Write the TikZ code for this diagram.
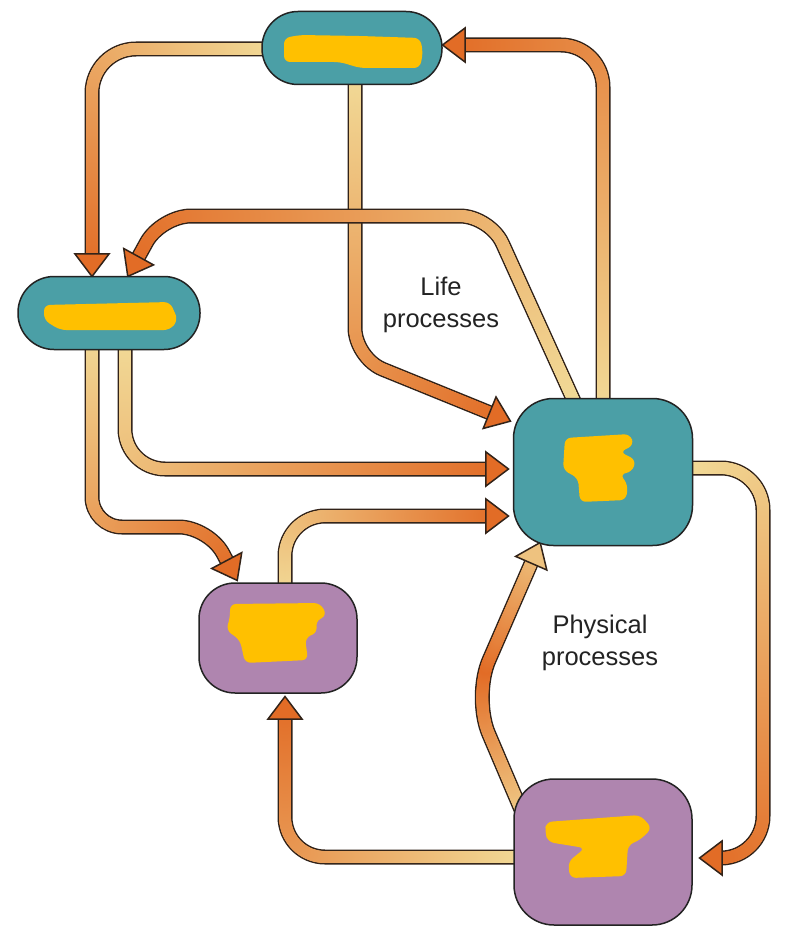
\documentclass[tikz,border=0pt]{standalone}
\usepackage{fontspec}
\setmainfont{Liberation Sans}
\usetikzlibrary{decorations.markings}
\definecolor{tealfill}{RGB}{75,159,166}
\definecolor{purfill}{RGB}{175,133,175}
\definecolor{nodeline}{RGB}{35,35,35}
\definecolor{bandline}{RGB}{50,35,25}
\definecolor{bandstart}{RGB}{242,221,154}
\definecolor{bandend}{RGB}{226,108,38}
\definecolor{scrib}{RGB}{255,192,0}
\definecolor{lbltext}{RGB}{35,35,35}
\tikzset{
  gmap/.store in=\gmapexpr, gmap={\gpos},
  gband/.style={
    preaction={draw=bandline, line width=15pt, shorten >=18pt},
    postaction={decorate, decoration={markings,
      mark=between positions 0 and -20pt step 1pt with {%
        \pgfmathsetmacro\gdist{\pgfkeysvalueof{/pgf/decoration/mark info/distance from start}}%
        \pgfmathsetmacro\gpos{100*(\gdist/\pgfdecoratedpathlength)}%
        \pgfmathsetmacro\gval{max(0,min(100,\gmapexpr))}%
        \fill[bandend!\gval!bandstart] (0,0) circle (6pt);
      },
      mark=at position -0.01pt with {%
        \pgfmathsetmacro\gpos{100}%
        \pgfmathsetmacro\gval{max(0,min(100,\gmapexpr))}%
        \filldraw[sharp corners, fill=bandend!\gval!bandstart, draw=bandline, line width=1.5pt, line join=miter]
          (0.5pt,0) -- (-22pt,17pt) -- (-22pt,-17pt) -- cycle;
      }
    }}
  },
  boxnode/.style={draw=nodeline, line width=1.5pt, inner sep=0pt},
  tealbox/.style={boxnode, fill=tealfill},
  purbox/.style={boxnode, fill=purfill},
  blob/.style={fill=scrib, rounded corners=6pt},
  lbl/.style={text=lbltext, font=\fontsize{25.5}{31}\selectfont, inner sep=0pt, anchor=base}
}
\begin{document}
\begin{tikzpicture}[x=1pt,y=-1pt]
\useasboundingbox (0,0) rectangle (784,936);
\fill[white] (0,0) rectangle (784,936);

% coordinates for connector paths
\coordinate (a1s) at (280,49);   \coordinate (a1c) at (92,49);   \coordinate (a1e) at (92,276);
\coordinate (a3s) at (355,70);   \coordinate (a3c) at (355,358); \coordinate (a3e) at (510,421);
\coordinate (a2s) at (578,410);  \coordinate (a2c) at (490,216); \coordinate (a2d) at (161,216); \coordinate (a2e) at (128,276);
\coordinate (a4s) at (603,420);  \coordinate (a4c) at (603,45);  \coordinate (a4e) at (443,45);
\coordinate (a5s) at (125,330);  \coordinate (a5c) at (125,469); \coordinate (a5e) at (508,469);
\coordinate (a6s) at (92,330);   \coordinate (a6c) at (92,527);  \coordinate (a6d) at (209,527); \coordinate (a6e) at (237,580);
\coordinate (a7s) at (285,600);  \coordinate (a7c) at (285,516); \coordinate (a7e) at (508,516);
\coordinate (a8s) at (680,468);  \coordinate (a8c) at (763,468); \coordinate (a8d) at (763,858); \coordinate (a8e) at (700,858);
\coordinate (a9s) at (528,826);  \coordinate (a9c) at (473,697); \coordinate (a9e) at (540,543);
\coordinate (b1s) at (530,857);  \coordinate (b1c) at (285,857); \coordinate (b1e) at (285,697);

% bands
\path[gband, rounded corners=44pt] (a1s) -- (a1c) -- (a1e);
\path[gband, rounded corners=30pt] (a3s) -- (a3c) -- (a3e);
\path[gband, rounded corners=30pt] (a2s) -- (a2c) -- (a2d) -- (a2e);
\path[gband, rounded corners=42pt] (a4s) -- (a4c) -- (a4e);
\path[gband, rounded corners=40pt] (a5s) -- (a5c) -- (a5e);
\path[gband, rounded corners=30pt] (a6s) -- (a6c) -- (a6d) -- (a6e);
\path[gband, rounded corners=40pt] (a7s) -- (a7c) -- (a7e);
\path[gband, rounded corners=42pt] (a8s) -- (a8c) -- (a8d) -- (a8e);
\path[gband, gmap={100-1.7*abs(\gpos-55)}, rounded corners=40pt] (a9s) -- (a9c) -- (a9e);
\path[gband, rounded corners=40pt] (b1s) -- (b1c) -- (b1e);

% nodes
\node[tealbox, minimum width=180pt, minimum height=73pt, rounded corners=36pt] (top) at (352,48) {};
\node[tealbox, minimum width=182pt, minimum height=73pt, rounded corners=36pt] (left) at (109,313) {};
\node[tealbox, minimum width=179pt, minimum height=147pt, rounded corners=40pt] (bigr) at (603,472) {};
\node[purbox, minimum width=158pt, minimum height=110pt, rounded corners=36pt] (purm) at (278,638) {};
\node[purbox, minimum width=178pt, minimum height=146pt, rounded corners=40pt] (purb) at (603,852) {};

% scribbles
\fill[blob] (284,38) -- (300,35) -- (360,36) -- (420,38) -- (423,52) -- (420,68) -- (360,68) -- (340,62) -- (284,62) -- cycle;
\fill[blob] (44,305) -- (170,302) -- (178,320) -- (170,330) -- (60,330) -- (44,320) -- cycle;
\fill[blob] (565,438) -- (630,434) -- (634,445) -- (620,452) -- (636,460) -- (632,472) -- (620,474) -- (628,485) -- (626,500) -- (580,502) -- (578,478) -- (563,470) -- cycle;
\fill[blob] (230,604) -- (320,603) -- (327,615) -- (315,622) -- (318,632) -- (305,638) -- (308,660) -- (245,663) -- (240,640) -- (226,630) -- (230,618) -- cycle;
\fill[blob] (546,822) -- (600,818) -- (640,815) -- (652,828) -- (640,840) -- (628,845) -- (626,876) -- (570,878) -- (568,862) -- (585,848) -- (548,842) -- (545,832) -- cycle;

% labels
\node[lbl] (life1) at (441,295) {Life};
\node[lbl] (life2) at (441,327) {processes};
\node[lbl] (phys1) at (600,633) {Physical};
\node[lbl] (phys2) at (600,665) {processes};
\end{tikzpicture}
\end{document}
